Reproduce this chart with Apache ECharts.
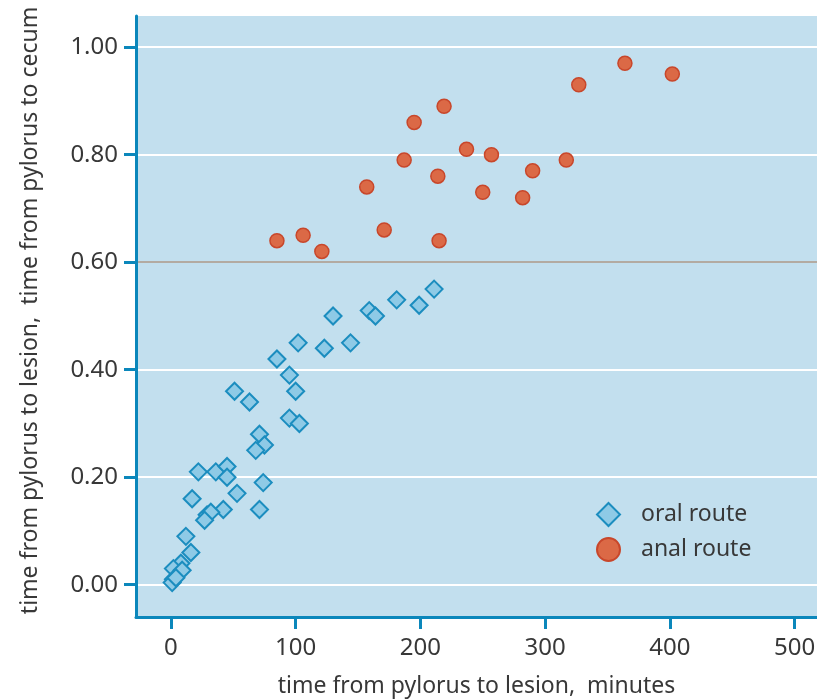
<!DOCTYPE html>
<html><head><meta charset="utf-8">
<script src="https://cdn.jsdelivr.net/npm/echarts@6/dist/echarts.min.js"></script>
<style>html,body{margin:0;padding:0;background:#fff}#c{width:817px;height:699px}</style>
</head><body><div id="c"></div>
<script>
const xTicks = [0, 100, 200, 300, 400, 500];
const yTicks = [0, 0.2, 0.4, 0.6, 0.8, 1.0];

const oralX = [211, 199, 181, 159, 164, 130, 144, 123, 102, 85, 95, 100, 51, 63, 95, 103, 71, 75, 68, 22, 36, 45, 45, 74, 53, 17, 42, 71, 29, 32, 27, 12, 16, 8, 2, 9, 2, 1, 4];
const oralY = [0.55, 0.52, 0.53, 0.51, 0.50, 0.50, 0.45, 0.44, 0.45, 0.42, 0.39, 0.36, 0.36, 0.34, 0.31, 0.30, 0.28, 0.26, 0.25, 0.21, 0.21, 0.22, 0.20, 0.19, 0.17, 0.16, 0.14, 0.14, 0.13, 0.135, 0.12, 0.09, 0.06, 0.04, 0.03, 0.027, 0.01, 0.004, 0.013];

const analX = [85, 106, 121, 157, 171, 187, 195, 214, 215, 219, 237, 257, 250, 282, 290, 317, 327, 364, 402];
const analY = [0.64, 0.65, 0.62, 0.74, 0.66, 0.79, 0.86, 0.76, 0.64, 0.89, 0.81, 0.80, 0.73, 0.72, 0.77, 0.79, 0.93, 0.97, 0.95];

const FONT = 'Noto Sans';
const TXT = '#383838';
const AX = '#0b87bb';

const oral = oralX.map((x, i) => [x, oralY[i]]);
const anal = analX.map((x, i) => [x, analY[i]]);

const chart = echarts.init(document.getElementById('c'));
chart.setOption({
  animation: false,
  backgroundColor: '#ffffff',
  textStyle: { fontFamily: FONT },
  grid: { left: 136, top: 16, right: 0, bottom: 82, show: true, backgroundColor: '#c2dfee', borderWidth: 0,
    containLabel: false, outerBoundsMode: 'none' },
  legend: {
    left: 591, top: 497, orient: 'vertical', itemWidth: 23, itemHeight: 23, itemGap: 10,
    textStyle: { fontFamily: FONT, fontSize: 23, color: TXT, padding: [0, 0, 0, 16] },
    data: ['oral route', 'anal route']
  },
  xAxis: {
    type: 'value', min: -28, max: 518,
    name: 'time from pylorus to lesion,  minutes', nameLocation: 'middle', nameGap: 58,
    nameTextStyle: { fontFamily: FONT, fontSize: 23, color: TXT },
    axisLine: { show: true, onZero: false, lineStyle: { color: AX, width: 3 } },
    axisTick: { show: true, inside: false, length: 12, lineStyle: { color: AX, width: 3 }, customValues: xTicks },
    axisLabel: { customValues: xTicks, fontFamily: FONT, fontSize: 24, color: TXT, margin: 19 },
    splitLine: { show: false }
  },
  yAxis: {
    type: 'value', min: -0.06, max: 1.058,
    name: 'time from pylorus to lesion,  time from pylorus to cecum', nameLocation: 'middle', nameGap: 94,
    nameTextStyle: { fontFamily: FONT, fontSize: 23, color: TXT, padding: [0, 0, 0, 12] },
    axisLine: { show: true, onZero: false, lineStyle: { color: AX, width: 3 } },
    axisTick: { show: true, inside: false, length: 12, lineStyle: { color: AX, width: 3 }, customValues: yTicks },
    axisLabel: { customValues: yTicks, fontFamily: FONT, fontSize: 24, color: TXT, margin: 18,
      formatter: v => v.toFixed(2) },
    splitLine: { show: true, lineStyle: { color: ['#ffffff', '#ffffff', '#ffffff', '#b3aba2', '#ffffff', '#ffffff'], width: 2 } }
  },
  series: [
    {
      name: 'oral route', type: 'scatter', symbol: 'diamond', symbolSize: 17, data: oral,
      itemStyle: { color: '#8ecae6', borderColor: '#1b8dbf', borderWidth: 2, opacity: 1 }
    },
    {
      name: 'anal route', type: 'scatter', symbol: 'circle', symbolSize: 14, data: anal,
      itemStyle: { color: '#db6946', borderColor: '#c8472b', borderWidth: 1.5, opacity: 1 }
    }
  ]
});
</script>
</body></html>
